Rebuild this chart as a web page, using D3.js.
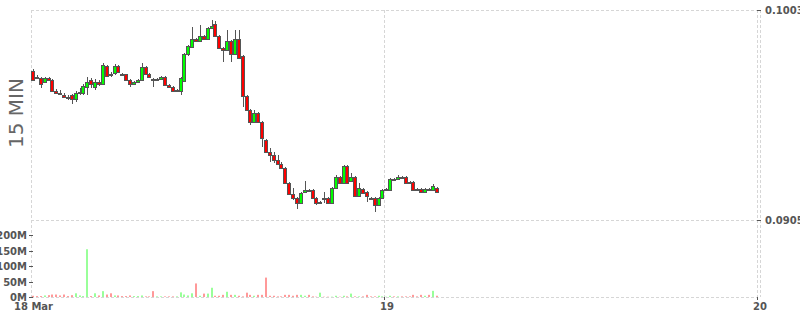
<!DOCTYPE html>
<html lang="en">
<head>
<meta charset="UTF-8">
<title>15 MIN candles</title>
<style>
  body { margin: 0; background: #fff; }
  text { font-family: "DejaVu Sans", sans-serif; }
  .grid { stroke: #d6d6d6; stroke-dasharray: 3,2; shape-rendering: crispEdges; }
  .tick { stroke: #555; shape-rendering: crispEdges; }
  .lbl { font-size: 10px; font-weight: bold; fill: #555; }
  .wick { stroke: #555; shape-rendering: crispEdges; }
  .body { stroke: #555; stroke-width: 1; shape-rendering: crispEdges; }
</style>
<script src="https://d3js.org/d3.v7.min.js"></script>
</head>
<body>
<svg width="800" height="315"></svg>
<script>
    // 15 minute candles, first one at 18 Mar 01:15
    const open = [
        0.09745, 0.09717, 0.09713, 0.09694, 0.09713, 0.09703, 0.09652, 0.09643, 0.09633, 0.09624,
        0.09633, 0.09615, 0.09643, 0.09643, 0.09671, 0.09703, 0.09671, 0.09694, 0.09685, 0.09769,
        0.09731, 0.09736, 0.09769, 0.09731, 0.09731, 0.09703, 0.09685, 0.09694, 0.09703, 0.09764,
        0.09731, 0.09708, 0.09708, 0.09708, 0.09717, 0.09680, 0.09671, 0.09652, 0.09652, 0.09699,
        0.09825, 0.09857, 0.09895, 0.09885, 0.09909, 0.09895, 0.09946, 0.09965, 0.09909, 0.09853,
        0.09843, 0.09885, 0.09825, 0.09895, 0.09815, 0.09629, 0.09563, 0.09507, 0.09549, 0.09507,
        0.09423, 0.09367, 0.09353, 0.09330, 0.09311, 0.09293, 0.09223, 0.09171, 0.09153, 0.09129,
        0.09181, 0.09190, 0.09190, 0.09153, 0.09129, 0.09153, 0.09153, 0.09129, 0.09199, 0.09251,
        0.09223, 0.09302, 0.09232, 0.09251, 0.09162, 0.09195, 0.09181, 0.09153, 0.09153, 0.09120,
        0.09153, 0.09195, 0.09190, 0.09241, 0.09241, 0.09251, 0.09251, 0.09227, 0.09227, 0.09195,
        0.09195, 0.09181, 0.09195, 0.09190, 0.09199
    ];
    const high = [
        0.09755, 0.09727, 0.09717, 0.09717, 0.09717, 0.09708, 0.09661, 0.09657, 0.09643, 0.09633,
        0.09638, 0.09652, 0.09666, 0.09685, 0.09717, 0.09713, 0.09708, 0.09703, 0.09783, 0.09773,
        0.09741, 0.09778, 0.09773, 0.09736, 0.09731, 0.09708, 0.09699, 0.09708, 0.09783, 0.09769,
        0.09736, 0.09713, 0.09713, 0.09722, 0.09722, 0.09685, 0.09675, 0.09661, 0.09717, 0.09829,
        0.09867, 0.09951, 0.09899, 0.09960, 0.09913, 0.09951, 0.09983, 0.09979, 0.09913, 0.09857,
        0.09937, 0.09890, 0.09937, 0.09937, 0.09820, 0.09633, 0.09568, 0.09563, 0.09554, 0.09512,
        0.09428, 0.09386, 0.09367, 0.09353, 0.09321, 0.09297, 0.09227, 0.09199, 0.09157, 0.09181,
        0.09232, 0.09195, 0.09195, 0.09157, 0.09139, 0.09181, 0.09157, 0.09204, 0.09260, 0.09255,
        0.09307, 0.09307, 0.09269, 0.09255, 0.09223, 0.09199, 0.09185, 0.09157, 0.09157, 0.09157,
        0.09195, 0.09199, 0.09246, 0.09246, 0.09260, 0.09255, 0.09255, 0.09232, 0.09232, 0.09199,
        0.09199, 0.09199, 0.09199, 0.09218, 0.09204
    ];
    const low = [
        0.09699, 0.09708, 0.09666, 0.09689, 0.09699, 0.09647, 0.09638, 0.09633, 0.09619, 0.09610,
        0.09591, 0.09601, 0.09633, 0.09633, 0.09633, 0.09666, 0.09657, 0.09675, 0.09680, 0.09717,
        0.09717, 0.09727, 0.09736, 0.09727, 0.09699, 0.09671, 0.09680, 0.09689, 0.09699, 0.09727,
        0.09713, 0.09671, 0.09703, 0.09703, 0.09675, 0.09666, 0.09647, 0.09647, 0.09633, 0.09694,
        0.09815, 0.09853, 0.09881, 0.09881, 0.09890, 0.09890, 0.09941, 0.09904, 0.09848, 0.09787,
        0.09839, 0.09787, 0.09820, 0.09801, 0.09577, 0.09559, 0.09493, 0.09503, 0.09503, 0.09391,
        0.09363, 0.09321, 0.09316, 0.09307, 0.09288, 0.09218, 0.09167, 0.09143, 0.09101, 0.09125,
        0.09176, 0.09181, 0.09148, 0.09120, 0.09125, 0.09129, 0.09125, 0.09125, 0.09195, 0.09218,
        0.09218, 0.09218, 0.09227, 0.09157, 0.09157, 0.09171, 0.09134, 0.09148, 0.09087, 0.09115,
        0.09148, 0.09190, 0.09185, 0.09237, 0.09237, 0.09246, 0.09218, 0.09218, 0.09185, 0.09185,
        0.09176, 0.09176, 0.09190, 0.09185, 0.09176
    ];
    const close = [
        0.09703, 0.09713, 0.09685, 0.09713, 0.09703, 0.09652, 0.09643, 0.09641, 0.09624, 0.09623,
        0.09615, 0.09643, 0.09647, 0.09675, 0.09694, 0.09685, 0.09694, 0.09685, 0.09773, 0.09722,
        0.09727, 0.09769, 0.09741, 0.09730, 0.09703, 0.09685, 0.09694, 0.09703, 0.09764, 0.09731,
        0.09717, 0.09706, 0.09708, 0.09717, 0.09680, 0.09671, 0.09652, 0.09657, 0.09713, 0.09825,
        0.09862, 0.09895, 0.09885, 0.09909, 0.09895, 0.09946, 0.09955, 0.09909, 0.09853, 0.09843,
        0.09885, 0.09825, 0.09895, 0.09806, 0.09629, 0.09563, 0.09507, 0.09549, 0.09507, 0.09433,
        0.09367, 0.09353, 0.09330, 0.09311, 0.09293, 0.09223, 0.09171, 0.09153, 0.09129, 0.09176,
        0.09190, 0.09185, 0.09153, 0.09129, 0.09134, 0.09152, 0.09129, 0.09199, 0.09251, 0.09223,
        0.09302, 0.09223, 0.09251, 0.09162, 0.09199, 0.09176, 0.09162, 0.09152, 0.09120, 0.09153,
        0.09190, 0.09196, 0.09241, 0.09240, 0.09251, 0.09250, 0.09223, 0.09223, 0.09190, 0.09190,
        0.09181, 0.09195, 0.09194, 0.09209, 0.09181
    ];
    // volume in millions
    const volume = [
        4, 3, 3, 5, 6, 8, 8, 5, 8, 3,
        6, 12, 5, 3, 155, 3, 12, 5, 19, 8,
        12, 5, 5, 3, 3, 5, 3, 3, 5, 2,
        2, 19, 2, 2, 2, 2, 2, 2, 15, 8,
        5, 12, 44, 4, 11, 11, 30, 4, 4, 7,
        17, 7, 7, 4, 2, 14, 7, 4, 7, 7,
        63, 4, 4, 2, 2, 7, 7, 4, 7, 7,
        4, 7, 2, 1, 14, 1, 1, 1, 4, 1,
        4, 2, 11, 2, 2, 2, 7, 2, 2, 4,
        2, 1, 4, 2, 2, 2, 2, 2, 7, 2,
        7, 4, 7, 20, 4
    ];

    const priceTicks = [0.0905, 0.1003];
    const volTicks = [0, 50, 100, 150, 200];
    const volTickLabels = ["0M", "50M", "100M", "150M", "200M"];
    const dayTicks = [Date.UTC(2018, 2, 19), Date.UTC(2018, 2, 20)];
    const dayTickLabels = ["19", "20"];

    const start = new Date(Date.UTC(2018, 2, 18, 1, 15));
    const end = new Date(Date.UTC(2018, 2, 20));
    const step = 15 * 60 * 1000;

    const svg = d3.select("svg");
    const pLeft = 31, pRight = 757, pTop = 10, pSplit = 220, pBottom = 297;

    const x = d3.scaleUtc().domain([start, end]).range([pLeft, pRight]);
    const y = d3.scaleLinear().domain([0.0905, 0.1003]).range([pSplit, pTop]);
    const yv = d3.scaleLinear().domain([0, 250]).range([pBottom, pSplit]);

    const candles = open.map((o, i) => ({
        t: new Date(start.getTime() + i * step),
        o: o, h: high[i], l: low[i], c: close[i], v: volume[i]
    }));

    // grid
    const grid = svg.append("g");
    [pTop, pSplit, pBottom].forEach(gy => {
        grid.append("line").attr("class", "grid")
            .attr("x1", pLeft).attr("x2", pRight).attr("y1", gy + 0.5).attr("y2", gy + 0.5);
    });
    [start, ...dayTicks.map(d => new Date(d))].forEach(d => {
        const gx = Math.round(x(d)) + 0.5;
        grid.append("line").attr("class", "grid")
            .attr("x1", gx).attr("x2", gx).attr("y1", pTop).attr("y2", pBottom);
    });
    grid.append("line").attr("class", "grid")
        .attr("x1", pRight + 3.5).attr("x2", pRight + 3.5).attr("y1", pTop).attr("y2", pBottom);

    // volume bars
    svg.append("g").selectAll("rect")
        .data(candles)
        .enter().append("rect")
        .attr("x", d => Math.round(x(d.t)) + 1)
        .attr("width", 2)
        .attr("y", d => yv(d.v))
        .attr("height", d => pBottom - yv(d.v))
        .attr("fill", d => d.c >= d.o ? "#99ff99" : "#ff9999");

    // candles
    const cg = svg.append("g").selectAll("g")
        .data(candles)
        .enter().append("g");

    cg.append("line").attr("class", "wick")
        .attr("x1", d => Math.round(x(d.t)) + 2)
        .attr("x2", d => Math.round(x(d.t)) + 2)
        .attr("y1", d => Math.round(y(d.h)))
        .attr("y2", d => Math.round(y(d.l)));

    cg.append("rect").attr("class", "body")
        .attr("x", d => Math.round(x(d.t)) + 0.5)
        .attr("width", 3)
        .attr("y", d => Math.round(y(Math.max(d.o, d.c))) + 0.5)
        .attr("height", d => Math.max(1, Math.round(y(Math.min(d.o, d.c))) - Math.round(y(Math.max(d.o, d.c)))))
        .attr("fill", d => d.c >= d.o ? "#00ff00" : "#ff0000");

    // right price axis
    priceTicks.forEach(p => {
        const py = Math.round(y(p)) + 0.5;
        svg.append("line").attr("class", "tick")
            .attr("x1", pRight).attr("x2", pRight + 4).attr("y1", py).attr("y2", py);
        svg.append("text").attr("class", "lbl")
            .attr("x", pRight + 8).attr("y", py).attr("dy", "0.35em")
            .text(p.toFixed(4));
    });

    // left volume axis
    volTicks.forEach((v, i) => {
        const vy = Math.round(yv(v)) + 0.5;
        svg.append("line").attr("class", "tick")
            .attr("x1", 29).attr("x2", 33).attr("y1", vy).attr("y2", vy);
        svg.append("text").attr("class", "lbl")
            .attr("x", 27).attr("y", vy).attr("dy", "0.35em")
            .attr("text-anchor", "end")
            .text(volTickLabels[i]);
    });

    // time axis
    svg.append("text").attr("class", "lbl")
        .attr("x", pLeft + 2.5).attr("y", 309.5)
        .attr("text-anchor", "middle")
        .text("18 Mar");
    dayTicks.forEach((d, i) => {
        const tx = Math.round(x(new Date(d))) + 0.5;
        svg.append("line").attr("class", "tick")
            .attr("x1", tx).attr("x2", tx).attr("y1", pBottom).attr("y2", pBottom + 3);
        svg.append("text").attr("class", "lbl")
            .attr("x", tx + 2.5).attr("y", 309.5)
            .attr("text-anchor", "middle")
            .text(dayTickLabels[i]);
    });

    svg.append("text")
        .attr("transform", "translate(23,113) rotate(-90)")
        .attr("text-anchor", "middle")
        .attr("font-size", 20)
        .attr("fill", "#666")
        .text("15 MIN");
</script>
</body>
</html>
